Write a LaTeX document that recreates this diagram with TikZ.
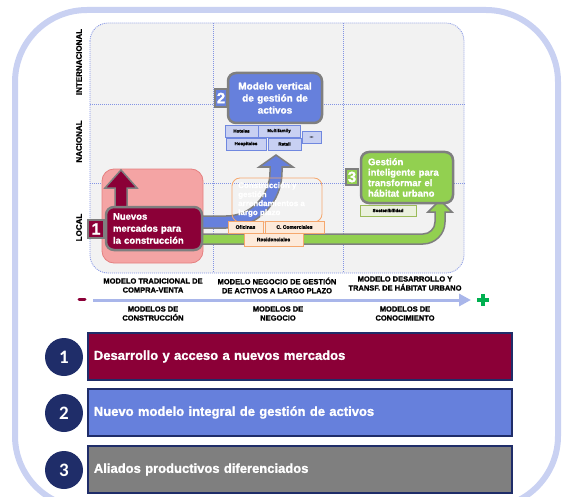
\documentclass[tikz,border=0pt]{standalone}
\usepackage{fontspec}
\setmainfont{Liberation Sans}[BoldFeatures={FakeBold=1.2}]
\newfontfamily\numfont{Carlito}
\usetikzlibrary{arrows.meta}
\newcommand{\myfs}[2]{\fontsize{#1}{#2}\selectfont}
\definecolor{framec}{HTML}{C9D1F2}
\definecolor{panelc}{HTML}{F2F2F2}
\definecolor{gridc}{HTML}{8394E4}
\definecolor{maroonc}{HTML}{8B0037}
\definecolor{bluec}{HTML}{6680DC}
\definecolor{greenc}{HTML}{92D050}
\definecolor{grayb}{HTML}{7F7F7F}
\definecolor{pinkc}{HTML}{F4A4A4}
\definecolor{pinkb}{HTML}{E58080}
\definecolor{orangec}{HTML}{F5A86E}
\definecolor{orangef}{HTML}{FDEADA}
\definecolor{tagbf}{HTML}{C8D0F2}
\definecolor{tagbb}{HTML}{7088DF}
\definecolor{navyc}{HTML}{1F2D69}
\definecolor{axisc}{HTML}{A9B6EA}
\definecolor{plusc}{HTML}{00B050}
\definecolor{sosf}{HTML}{EBF1DE}
\definecolor{sosb}{HTML}{9BBB59}
\begin{document}
\begin{tikzpicture}[x=1pt,y=-1pt,
  fat/.style={draw=grayb, line width=1.5pt, line join=miter},
  bigbox/.style={draw=grayb, line width=2.5pt, rounded corners=8pt, inner ysep=0pt, text=white, font=\bfseries},
  numtag/.style={draw=grayb, line width=1.5pt, inner sep=0pt, text=white, font=\bfseries\myfs{15}{15}},
  btag/.style={draw=tagbb, fill=tagbf, line width=0.8pt, inner sep=0pt, minimum height=12pt, font=\bfseries\myfs{4.5}{5}},
  otag/.style={draw=orangec, fill=orangef, line width=0.8pt, inner sep=0pt, minimum height=12pt, font=\bfseries\myfs{5}{6}},
  axlab/.style={font=\bfseries\myfs{7.5}{9}, align=center, inner sep=0pt},
  rowlab/.style={rotate=90, font=\bfseries\myfs{8}{8}, inner sep=0pt},
  gridline/.style={draw=gridc, line width=0.8pt, dash pattern=on 1pt off 1pt},
  bar/.style={draw=navyc, line width=1.8pt, minimum height=47pt, text width=412pt, inner xsep=6pt, align=left, anchor=west, text=white, font=\bfseries\myfs{13}{15}},
  circ/.style={circle, fill=navyc, minimum size=38pt, inner sep=0pt, text=white, font=\numfont\bfseries\myfs{19}{19}},
]
\useasboundingbox (0,0) rectangle (564,497);
\begin{scope}
\clip (0,0) rectangle (564,497);
\draw[framec, line width=6pt, rounded corners=72pt] (15,10) rectangle (558,508);
\end{scope}

% panel and grid
\draw[gridline, fill=panelc, rounded corners=18pt] (90,23) rectangle (464,273);
\draw[gridline] (213,23) -- (213,273);
\draw[gridline] (343,23) -- (343,273);
\draw[gridline] (90,104) -- (466,104);
\draw[gridline] (90,183) -- (466,183);

% pink background
\node (pink) [fill=pinkc, draw=pinkb, line width=0.8pt, rounded corners=12pt, minimum width=101pt, minimum height=94pt, inner sep=0pt] at (152.5,216) {};

% maroon arrow
\draw[fat, fill=maroonc] (115,215) -- (115,188) -- (105,188) -- (121,170) -- (137,188) -- (127,188) -- (127,215) -- cycle;

% blue arrow
\draw[fat, fill=bluec] (190,216) -- (226,216) .. controls (250.3,216) and (270,196.3) .. (270,172) -- (270,167) -- (259,167) -- (276,155) -- (293,167) -- (282,167) -- (282,172) .. controls (282,202.9) and (256.9,228) .. (226,228) -- (190,228) -- cycle;

% green arrow
\draw[fat, fill=greenc] (190,234) -- (423,234) .. controls (429.6,234) and (435,228.6) .. (435,222) -- (435,212) -- (428,212) -- (440,200) -- (452,212) -- (445,212) -- (445,222) .. controls (445,234.15) and (435.15,244) .. (423,244) -- (190,244) -- cycle;

% orange box
\node (obox) [draw=orangec, line width=0.8pt, rounded corners=8pt, minimum width=90pt, minimum height=44pt, inner sep=0pt] at (277,200) {};
\node (otext) [anchor=north west, align=left, text=white, font=\bfseries\myfs{8}{9}, inner sep=0pt] at (238,182) {Construcción y\\gestión\\arrendamientos a\\largo plazo};
\node (ofi) [otag, minimum width=35pt] at (245.5,227) {Oficinas};
\node (ccom) [otag, minimum width=59pt] at (294.5,227) {C. Comerciales};
\node (resi) [otag, minimum width=59pt, minimum height=13pt] at (273.5,239.5) {Residenciales};

% box 1
\node (b1) [bigbox, fill=maroonc, minimum width=96pt, minimum height=43pt, text width=82pt, inner xsep=7pt, align=left, font=\bfseries\myfs{9.5}{12}] at (154,228.5) {Nuevos\\mercados para\\la construcción};
\node (t1) [numtag, fill=maroonc, minimum width=16pt, minimum height=18pt, font=\bfseries\myfs{16}{16}] at (96,229) {1};

% box 2
\node (b2) [bigbox, fill=bluec, minimum width=94pt, minimum height=50pt, text width=86pt, inner xsep=4pt, align=center, font=\bfseries\myfs{10}{12}] at (275,98) {Modelo vertical\\de gestión de\\activos};
\node (t2) [numtag, fill=bluec, minimum width=12pt, minimum height=18pt] at (221,98) {2};
\node (hot) [btag, minimum width=33pt] at (241.5,131) {Hoteles};
\node (mul) [btag, minimum width=42pt] at (279,131) {Multifamily};
\node (hos) [btag, minimum width=40pt] at (246,144) {Hospitales};
\node (ret) [btag, minimum width=33pt] at (284.5,144) {Retail};
\node (dots) [btag, minimum width=19pt] at (311.5,137) {...};

% box 3
\node (b3) [bigbox, fill=greenc, minimum width=92pt, minimum height=51pt, text width=78pt, inner xsep=7pt, align=left, font=\bfseries\myfs{9.5}{10.5}] at (407,177.5) {Gestión\\inteligente para\\transformar el\\hábitat urbano};
\node (t3) [numtag, fill=greenc, minimum width=12pt, minimum height=16pt] at (352,177) {3};
\node (sos) [draw=sosb, fill=sosf, line width=0.8pt, inner sep=0pt, minimum width=56pt, minimum height=11pt, font=\bfseries\myfs{4.5}{5}] at (388,210.5) {Sostenibilidad};

% row labels
\node (rint) [rowlab] at (79,62) {INTERNACIONAL};
\node (rnac) [rowlab] at (79,141.5) {NACIONAL};
\node (rloc) [rowlab] at (79,227.5) {LOCAL};

% column labels
\node (c1) [axlab] at (153,285.5) {MODELO TRADICIONAL DE\\COMPRA-VENTA};
\node (c2) [axlab] at (277,285.5) {MODELO NEGOCIO DE GESTIÓN\\DE ACTIVOS A LARGO PLAZO};
\node (c3) [axlab] at (405,283.5) {MODELO DESARROLLO Y\\TRANSF. DE HÁBITAT URBANO};

% axis
\coordinate (axs) at (93,300);
\coordinate (axe) at (471,300);
\draw[axisc, line width=3pt, -{Triangle[length=12pt,width=12pt]}] (axs) -- (axe);
\draw[maroonc, line width=3pt, line cap=round] (79,299) -- (85,299);
\draw[plusc, line width=4pt] (477,300) -- (489,300) (483,294) -- (483,306);

\node (m1) [axlab] at (153,313.5) {MODELOS DE\\CONSTRUCCIÓN};
\node (m2) [axlab] at (278,313.5) {MODELOS DE\\NEGOCIO};
\node (m3) [axlab] at (405,313.5) {MODELOS DE\\CONOCIMIENTO};

% bars
\node (bar1) [bar, fill=maroonc] at (87,356.5) {Desarrollo y acceso a nuevos mercados};
\node (bar2) [bar, fill=bluec] at (87,412.5) {Nuevo modelo integral de gestión de activos};
\node (bar3) [bar, fill=grayb] at (87,469.5) {Aliados productivos diferenciados};
\node (n1) [circ] at (64,357) {1};
\node (n2) [circ] at (64,413) {2};
\node (n3) [circ] at (64,470) {3};
\end{tikzpicture}
\end{document}
